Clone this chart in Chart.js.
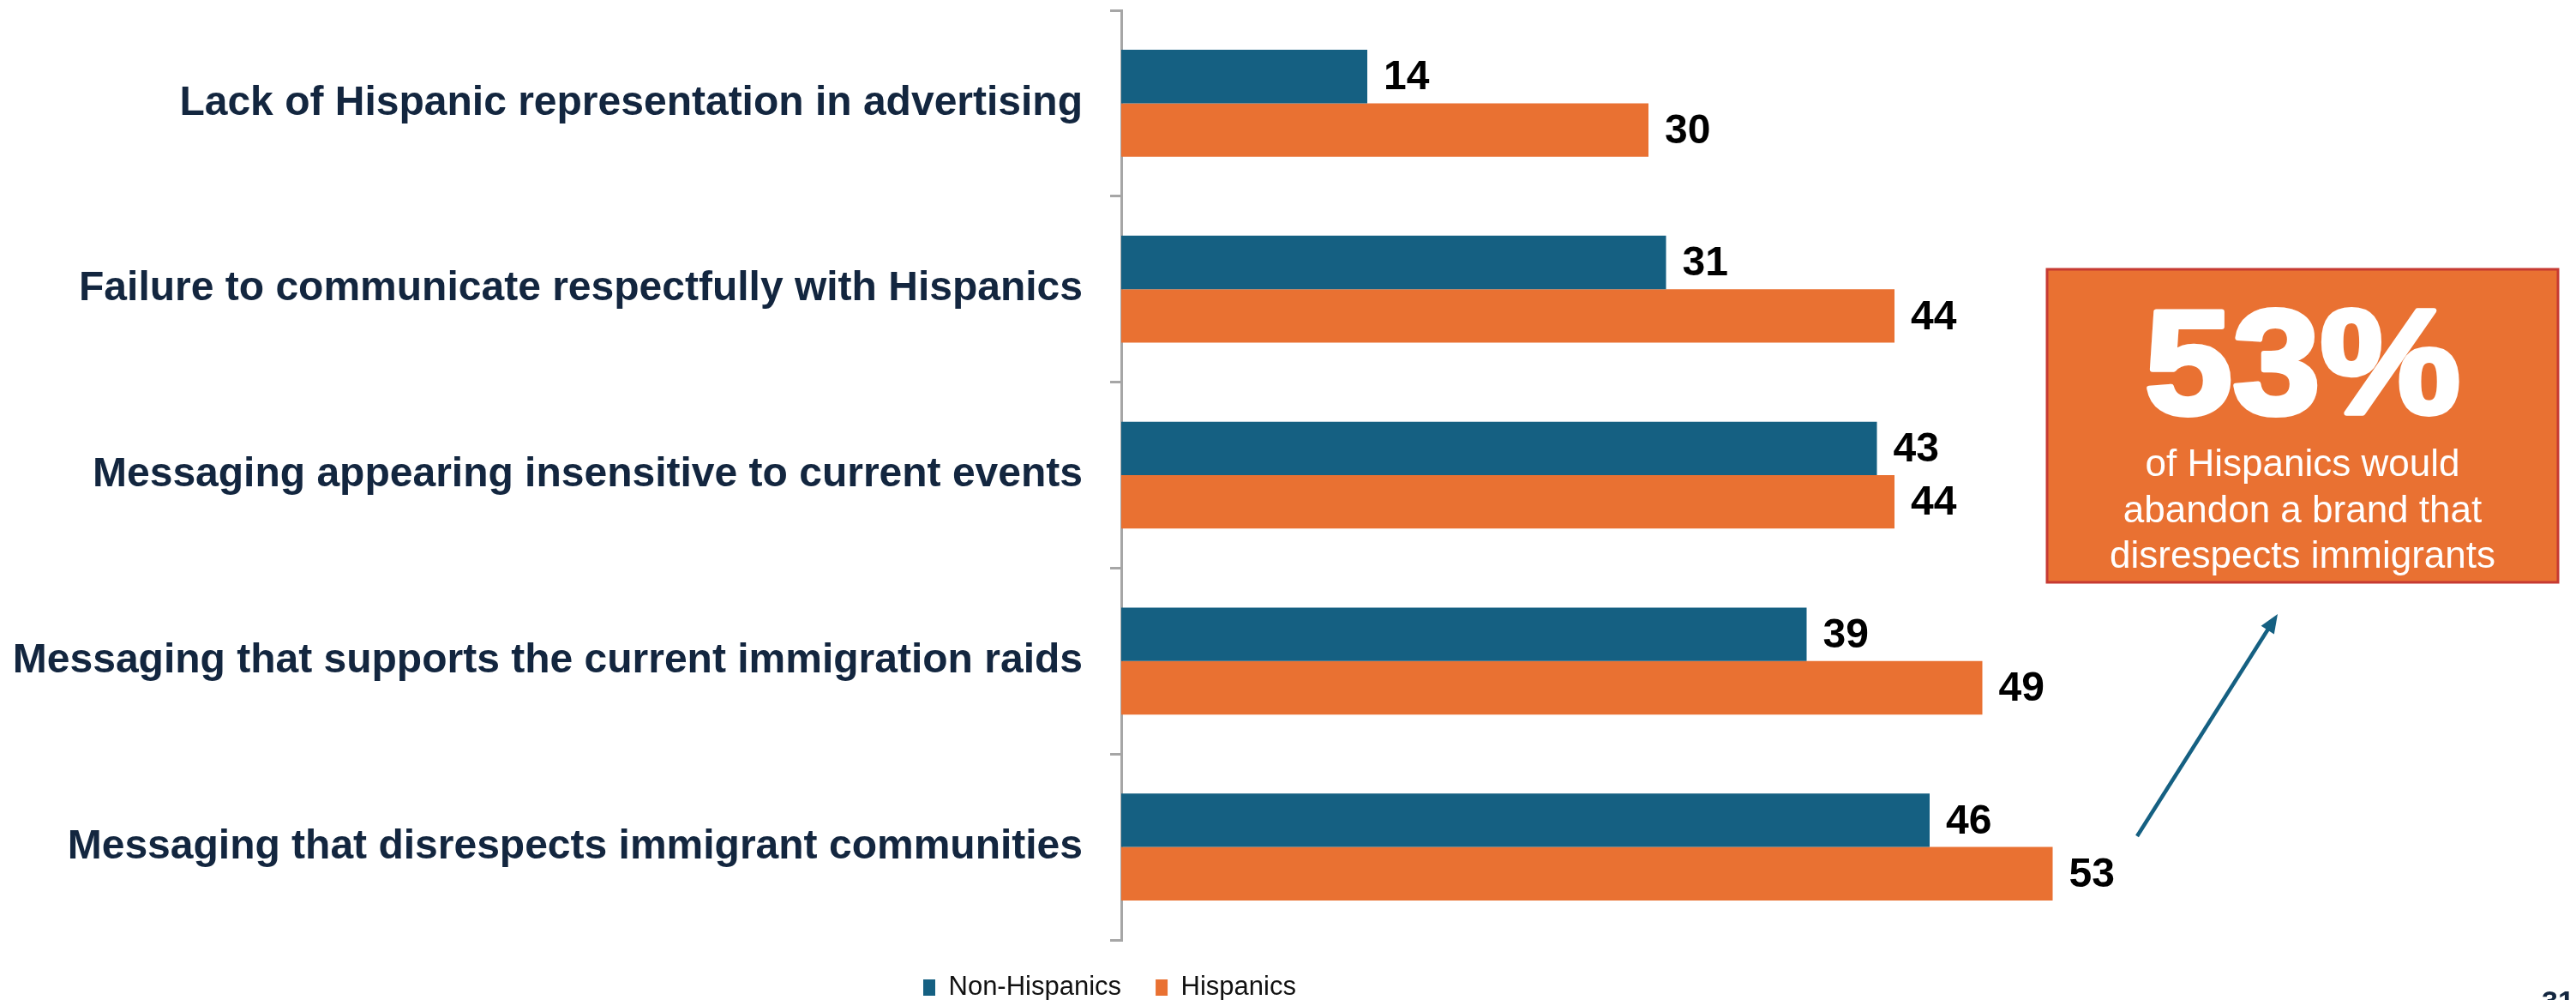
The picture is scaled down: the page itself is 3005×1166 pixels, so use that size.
<!DOCTYPE html>
<html>
<head>
<meta charset="utf-8">
<title>Brand abandonment triggers</title>
<script src="https://cdn.jsdelivr.net/npm/chart.js@4.4.1/dist/chart.umd.min.js"></script>
<style>
  html, body { margin: 0; padding: 0; background: #fff; overflow: hidden; }
  #wrap { position: relative; width: 3005px; height: 1166px; }
</style>
</head>
<body>
<div id="wrap"><canvas id="reasonsChart" width="3005" height="1166"></canvas></div>
<script>
// Data
const CATEGORIES = [
    'Lack of Hispanic representation in advertising',
    'Failure to communicate respectfully with Hispanics',
    'Messaging appearing insensitive to current events',
    'Messaging that supports the current immigration raids',
    'Messaging that disrespects immigrant communities'
];
const SERIES_NAMES = ['Non-Hispanics', 'Hispanics'];
const NON_HISPANICS = [14, 31, 43, 39, 46];
const HISPANICS = [30, 44, 44, 49, 53];
const CALLOUT_LINES = ['of Hispanics would', 'abandon a brand that', 'disrespects immigrants'];
const PAGE_NUMBER = '31';
const X_MAX = 80;

// Look
const BLUE = '#156082';
const ORANGE = '#e97132';
const NAVY = '#13263f';
const AXIS_GREY = '#a6a6a6';
const FONT = '"Liberation Sans", Arial, sans-serif';

const AXIS_X = 1308;     // where the category axis line sits
const LEGEND_X = 1037;   // legend row starts here (before its own padding)

// value next to each bar
const valueLabels = {
    id: 'valueLabels',
    afterDatasetsDraw(chart) {
        const ctx = chart.ctx;
        ctx.save();
        ctx.font = 'bold 48px ' + FONT;
        ctx.fillStyle = '#000';
        ctx.textAlign = 'left';
        ctx.textBaseline = 'middle';
        chart.data.datasets.forEach((ds, i) => {
            chart.getDatasetMeta(i).data.forEach((bar, j) => {
                ctx.fillText(String(ds.data[j]), bar.x + 19, bar.y + 2);
            });
        });
        ctx.restore();
    }
};

// slide the legend row under the axis instead of the canvas edge
const legendShift = {
    id: 'legendShift',
    afterLayout(chart) {
        const lg = chart.legend;
        if (!lg) return;
        const w = lg.right - lg.left;
        lg.left = LEGEND_X;
        lg.right = LEGEND_X + w;
    }
};

// orange call-out box, arrow and page number
const callout = {
    id: 'callout',
    afterDraw(chart) {
        const ctx = chart.ctx;
        const box = { x: 2388, y: 314, w: 596, h: 365 };
        const cx = box.x + box.w / 2;
        ctx.save();
        ctx.fillStyle = ORANGE;
        ctx.fillRect(box.x, box.y, box.w, box.h);
        ctx.strokeStyle = '#c63a32';
        ctx.lineWidth = 3;
        ctx.strokeRect(box.x, box.y, box.w, box.h);

        // headline figure comes from the biggest Hispanic value
        const top = Math.max(...HISPANICS);
        ctx.fillStyle = '#fff';
        ctx.strokeStyle = '#fff';
        ctx.lineJoin = 'round';
        ctx.lineWidth = 6;
        ctx.textAlign = 'center';
        ctx.textBaseline = 'alphabetic';
        ctx.font = 'bold 172px ' + FONT;
        ctx.save();
        ctx.translate(cx, 482);
        ctx.scale(1.07, 1);
        ctx.fillText(top + '%', 0, 0);
        ctx.strokeText(top + '%', 0, 0);
        ctx.restore();

        ctx.font = '44px ' + FONT;
        CALLOUT_LINES.forEach((line, i) => ctx.fillText(line, cx, 555 + i * 53.5));

        // arrow from the 53 bar up to the box
        const x0 = 2493, y0 = 975, x1 = 2657, y1 = 716;
        const ang = Math.atan2(y1 - y0, x1 - x0);
        ctx.strokeStyle = BLUE;
        ctx.fillStyle = BLUE;
        ctx.lineWidth = 4.5;
        ctx.beginPath();
        ctx.moveTo(x0, y0);
        ctx.lineTo(x1 - 14 * Math.cos(ang), y1 - 14 * Math.sin(ang));
        ctx.stroke();
        ctx.beginPath();
        ctx.moveTo(x1, y1);
        ctx.lineTo(x1 - 22 * Math.cos(ang) + 9 * Math.sin(ang), y1 - 22 * Math.sin(ang) - 9 * Math.cos(ang));
        ctx.lineTo(x1 - 22 * Math.cos(ang) - 9 * Math.sin(ang), y1 - 22 * Math.sin(ang) + 9 * Math.cos(ang));
        ctx.closePath();
        ctx.fill();

        // slide number, mostly below the bottom edge
        ctx.fillStyle = NAVY;
        ctx.font = 'bold 34px ' + FONT;
        ctx.textAlign = 'left';
        ctx.textBaseline = 'alphabetic';
        ctx.fillText(PAGE_NUMBER, 2965, 1179);
        ctx.restore();
    }
};

const ctx = document.getElementById('reasonsChart').getContext('2d');
const chart = new Chart(ctx, {
    type: 'bar',
    data: {
        labels: CATEGORIES,
        datasets: [
            { label: SERIES_NAMES[0], data: NON_HISPANICS, backgroundColor: BLUE },
            { label: SERIES_NAMES[1], data: HISPANICS, backgroundColor: ORANGE }
        ]
    },
    options: {
        indexAxis: 'y',
        responsive: false,
        devicePixelRatio: 1,
        animation: false,
        layout: { autoPadding: false, padding: { left: 0, right: 57, top: 12, bottom: 0 } },
        datasets: { bar: { categoryPercentage: 0.575, barPercentage: 1.0, borderWidth: 0 } },
        plugins: {
            tooltip: { enabled: false },
            legend: {
                position: 'bottom',
                align: 'start',
                maxHeight: 70,
                labels: {
                    color: '#111',
                    font: { family: FONT, size: 31 },
                    boxWidth: 14,
                    boxHeight: 19,
                    padding: 40
                }
            }
        },
        scales: {
            x: { display: false, min: 0, max: X_MAX },
            y: {
                afterFit(scale) {
                    scale.width = AXIS_X;
                    scale.paddingTop = 0;
                    scale.paddingBottom = 0;
                },
                grid: { drawOnChartArea: false, drawTicks: true, tickLength: 13, color: AXIS_GREY, lineWidth: 3, offset: true },
                border: { display: true, color: AXIS_GREY, width: 3 },
                ticks: { color: NAVY, padding: 32, font: { family: FONT, size: 48, weight: 'bold' } }
            }
        }
    },
    plugins: [legendShift, valueLabels, callout]
});
</script>
</body>
</html>
